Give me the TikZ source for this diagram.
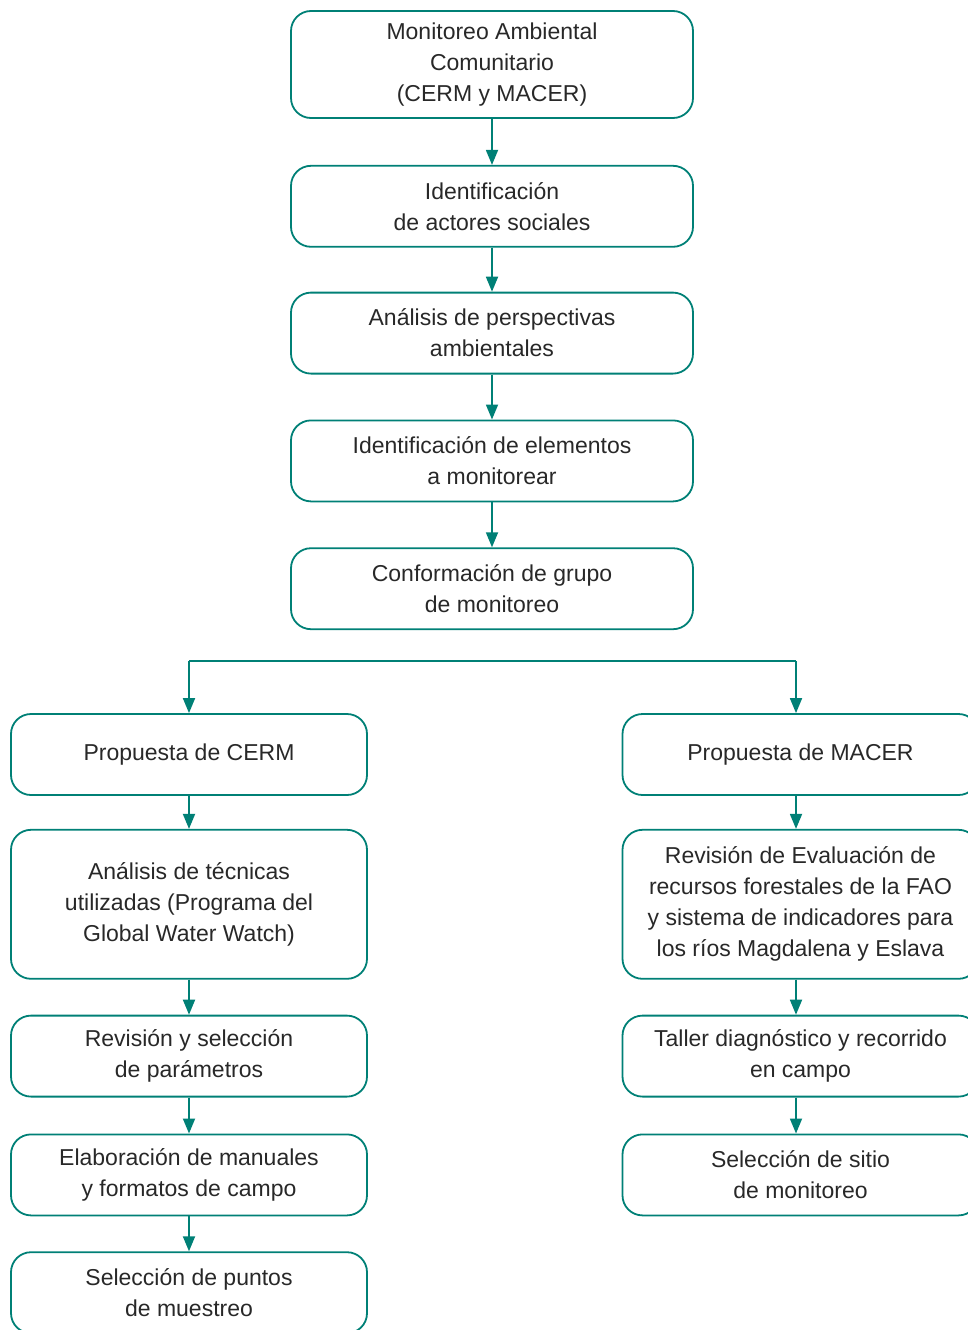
\documentclass[tikz,border=0pt]{standalone}
\usepackage{fontspec}
\setmainfont{Liberation Sans}
\usetikzlibrary{positioning,arrows.meta}
\definecolor{tealline}{RGB}{0,128,118}
\definecolor{textgray}{RGB}{40,40,40}

\begin{document}
\begin{tikzpicture}[
            x=1pt, y=1pt,
            block/.style={rectangle, draw=tealline, line width=1.8pt, rounded corners=20pt, minimum height=81pt, align=center, text=textgray, font=\fontsize{23}{31}\selectfont},
            wide/.style={block, minimum width=402pt},
            side/.style={block, minimum width=356pt},
            arrow/.style={-{Triangle[length=15pt,width=12pt]}, line width=1.8pt, draw=tealline, fill=tealline}
        ]
        \useasboundingbox (0,0) rectangle (968,-1330);

        % main column
        \node[wide, minimum height=107pt] (monitoreo) at (492,-64.5) {Monitoreo Ambiental \\ Comunitario \\ (CERM y MACER)};
        \node[wide, below=46pt of monitoreo] (actores) {Identificación \\ de actores sociales};
        \node[wide, below=44pt of actores] (perspectivas) {Análisis de perspectivas \\ ambientales};
        \node[wide, below=45pt of perspectivas] (elementos) {Identificación de elementos \\ a monitorear};
        \node[wide, below=45pt of elementos] (grupo) {Conformación de grupo \\ de monitoreo};

        % left column (CERM)
        \node[side] (cerm) at (189,-754.5) {Propuesta de CERM};
        \node[side, minimum height=149pt, below=33pt of cerm] (tecnicas) {Análisis de técnicas \\ utilizadas (Programa del \\ Global Water Watch)};
        \node[side, below=35pt of tecnicas] (parametros) {Revisión y selección \\ de parámetros};
        \node[side, below=36pt of parametros] (manuales) {Elaboración de manuales \\ y formatos de campo};
        \node[side, below=35pt of manuales] (puntos) {Selección de puntos \\ de muestreo};

        % right column (MACER)
        \node[side] (macer) at (800.5,-754.5) {Propuesta de MACER};
        \node[side, minimum height=149pt, below=33pt of macer] (fao) {Revisión de Evaluación de \\ recursos forestales de la FAO \\ y sistema de indicadores para \\ los ríos Magdalena y Eslava};
        \node[side, below=35pt of fao] (taller) {Taller diagnóstico y recorrido \\ en campo};
        \node[side, below=36pt of taller] (sitio) {Selección de sitio \\ de monitoreo};

        \coordinate (splitL) at (189,-661);
        \coordinate (splitR) at (796,-661);

        \draw[arrow] (monitoreo) -- (actores);
        \draw[arrow] (actores) -- (perspectivas);
        \draw[arrow] (perspectivas) -- (elementos);
        \draw[arrow] (elementos) -- (grupo);
        \draw[line width=1.8pt, draw=tealline] (splitL) -- (splitR);
        \draw[arrow] (splitL) -- (splitL |- cerm.north);
        \draw[arrow] (splitR) -- (splitR |- macer.north);
        \draw[arrow] (cerm) -- (tecnicas);
        \draw[arrow] (tecnicas) -- (parametros);
        \draw[arrow] (parametros) -- (manuales);
        \draw[arrow] (manuales) -- (puntos);
        \draw[arrow] (splitR |- macer.south) -- (splitR |- fao.north);
        \draw[arrow] (splitR |- fao.south) -- (splitR |- taller.north);
        \draw[arrow] (splitR |- taller.south) -- (splitR |- sitio.north);
\end{tikzpicture}
\end{document}
